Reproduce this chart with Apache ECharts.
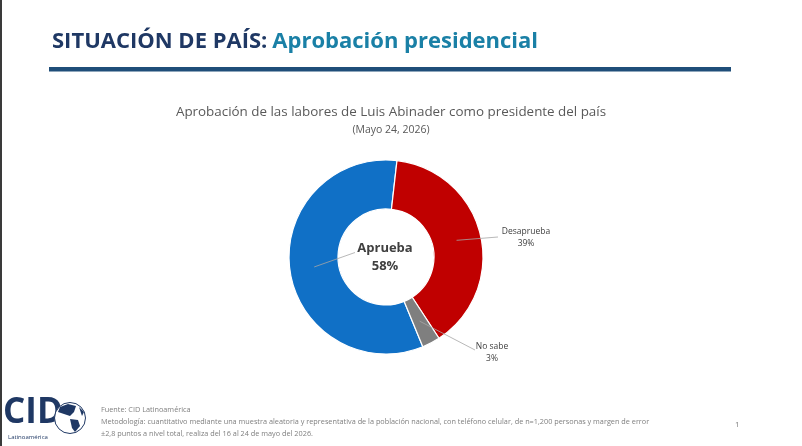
<!DOCTYPE html>
<html><head><meta charset="utf-8">
<script src="https://cdn.jsdelivr.net/npm/echarts@6/dist/echarts.min.js"></script>
<style>html,body{margin:0;padding:0;background:#fff}#c{width:802px;height:446px}</style>
</head><body><div id="c"></div>
<script>
const categories = ["Aprueba", "Desaprueba", "No sabe"];
const values = [58, 39, 3];
const colors = ["#1070C6", "#C00000", "#7F7F7F"];

const cx = 386, cy = 257, rIn = 48, rOut = 97;
// red slice starts ~6.5° clockwise from 12 o'clock
const startClockwise = 6.5 - values[0] / 100 * 360;
const startAngle = 90 - startClockwise;
const labelPos = [[385, 257], [526, 238], [492, 353]];
const lineEnd = [[355, 252.5], [498, 237], [475, 350]];

const total = values.reduce((a, b) => a + b, 0);
let acc = startClockwise;
const leaders = values.map((v, i) => {
  const mid = acc + v / total * 180;
  acc += v / total * 360;
  const rad = mid * Math.PI / 180;
  const rm = (rIn + rOut) / 2;
  return {
    type: 'line', silent: true, z: 10,
    shape: { x1: cx + rm * Math.sin(rad), y1: cy - rm * Math.cos(rad), x2: lineEnd[i][0], y2: lineEnd[i][1] },
    style: { stroke: '#A6A6A6', lineWidth: 0.8 }
  };
});

const footFont = '"Open Sans", sans-serif';
const chart = echarts.init(document.getElementById('c'), null, { renderer: 'canvas' });
chart.setOption({
  backgroundColor: '#fff',
  animation: false,
  title: [
    {
      text: '{a|SITUACIÓN DE PAÍS:} {b|Aprobación presidencial}',
      left: 47, top: 26,
      textStyle: {
        rich: {
          a: { fontFamily: '"Open Sans", sans-serif', fontWeight: 'bold', fontSize: 22, color: '#1F3864' },
          b: { fontFamily: '"Open Sans", sans-serif', fontWeight: 'bold', fontSize: 22, color: '#1A80A6' }
        }
      }
    },
    {
      text: 'Aprobación de las labores de Luis Abinader como presidente del país',
      left: 386, top: 101, textAlign: 'center',
      textStyle: { fontFamily: '"Open Sans", sans-serif', fontWeight: 'normal', fontSize: 13.4, color: '#595959' }
    },
    {
      text: '(Mayo 24, 2026)',
      left: 386, top: 120, textAlign: 'center',
      textStyle: { fontFamily: '"Open Sans", sans-serif', fontWeight: 'normal', fontSize: 10.5, color: '#595959' }
    }
  ],
  series: [{
    type: 'pie',
    center: [cx, cy],
    radius: [rIn, rOut],
    startAngle: startAngle,
    clockwise: true,
    avoidLabelOverlap: false,
    itemStyle: { borderColor: '#fff', borderWidth: 1.2 },
    labelLine: { show: false },
    label: {
      show: true,
      fontFamily: '"Open Sans", sans-serif',
      formatter: p => p.dataIndex === 0 ? '{big|' + p.name + '}\n{big|' + p.value + '%}' : '{sm|' + p.name + '}\n{sm|' + p.value + '%}',
      rich: {
        big: { fontFamily: '"Open Sans", sans-serif', fontWeight: 'bold', fontSize: 13, color: '#404040', lineHeight: 18, align: 'center' },
        sm: { fontFamily: '"Open Sans", sans-serif', fontSize: 8.5, color: '#404040', lineHeight: 12, align: 'center' }
      }
    },
    labelLayout: p => ({ x: labelPos[p.dataIndex][0], y: labelPos[p.dataIndex][1], align: 'center', verticalAlign: 'middle' }),
    data: categories.map((c, i) => ({ name: c, value: values[i], itemStyle: { color: colors[i] } }))
  }],
  graphic: [
    { type: 'rect', shape: { x: 0, y: 0, width: 2, height: 446 }, style: { fill: '#3a3a3a' }, silent: true },
    { type: 'rect', shape: { x: 49, y: 67, width: 682, height: 4.5 }, style: { fill: '#1F4E79' }, silent: true },
    ...leaders,
    { type: 'text', left: 101, top: 406, style: { text: 'Fuente: CID Latinoamérica', font: '7.3px ' + footFont, fill: '#7F7F7F' } },
    { type: 'text', left: 101, top: 418, style: { text: 'Metodología: cuantitativo mediante una muestra aleatoria y representativa de la población nacional, con teléfono celular, de n=1,200 personas y margen de error', font: '7.3px ' + footFont, fill: '#7F7F7F' } },
    { type: 'text', left: 101, top: 430, style: { text: '±2,8 puntos a nivel total, realiza del 16 al 24 de mayo del 2026.', font: '7.3px ' + footFont, fill: '#7F7F7F' } },
    { type: 'text', left: 735, top: 421, style: { text: '1', font: '8px ' + footFont, fill: '#7F7F7F' } },
    // logo
    { type: 'text', left: 3, top: 396, style: { text: 'CID', font: 'bold 35px "Liberation Sans Narrow", "Open Sans", sans-serif', fill: '#1F3864' } },
    { type: 'circle', shape: { cx: 70, cy: 418, r: 15.5 }, style: { fill: '#fff', stroke: '#1F3864', lineWidth: 1 } },
    { type: 'polygon', shape: { points: [[60, 407], [68, 404], [76, 406], [74, 412], [70, 416], [64, 414], [58, 412]] }, style: { fill: '#1F3864' } },
    { type: 'polygon', shape: { points: [[70, 419], [78, 420], [80, 426], [75, 432], [72, 428]] }, style: { fill: '#1F3864' } },
    { type: 'polygon', shape: { points: [[79, 407], [84, 412], [82, 416]] }, style: { fill: '#1F3864' } },
    { type: 'text', left: 8, top: 434, style: { text: 'Latinoamérica', font: '6px ' + footFont, fill: '#1F3864' } }
  ]
});
</script></body></html>
